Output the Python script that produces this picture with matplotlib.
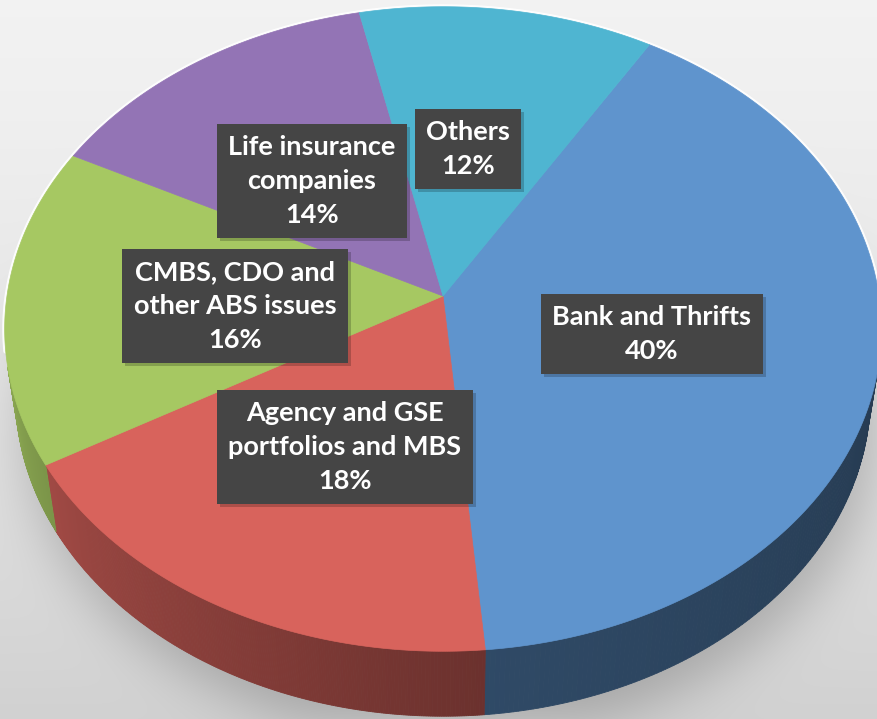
import numpy as np
import matplotlib.pyplot as plt
from matplotlib.colors import to_rgb
from matplotlib.patches import Polygon, Rectangle
from matplotlib.path import Path

# holders of the securities, clockwise from the top-right edge
labels = ["Bank and Thrifts", "Agency and GSE\nportfolios and MBS",
          "CMBS, CDO and\nother ABS issues", "Life insurance\ncompanies", "Others"]
shares = [40, 18, 16, 14, 12]
top_colors = ["#5F94CD", "#D8635C", "#A6C862", "#9374B5", "#4FB5D1"]
label_xy = [(652, 334), (345, 447), (235, 306), (312, 181), (468, 149)]

W, H = 878, 719
start_deg = 59.0           # where the first wedge starts (counter-clockwise from 3 o'clock)

# simple perspective camera looking down on a disc of radius 1
elev = np.radians(47.0)
S, C = np.sin(elev), np.cos(elev)
D, F = 6.66, 2904.0
CX, CY = 443.0, 296.0
thick = 0.232


def project(theta, z=0.0):
    X, Y = np.cos(theta), np.sin(theta)
    v = Y * S + z * C
    w = D + Y * C - z * S
    return CX + F * X / w, CY - F * v / w


def shade(theta):
    # side walls get darker from the left towards the right
    d = np.degrees(theta)
    d = np.where(d > 0, d - 360, d)
    return np.interp(d, [-167, -140, -86, -13], [0.82, 0.70, 0.50, 0.40])


def gauss_blur(img, sigma):
    k = np.exp(-0.5 * (np.arange(-3 * sigma, 3 * sigma + 1) / sigma) ** 2)
    k /= k.sum()
    out = np.apply_along_axis(lambda r: np.convolve(r, k, mode="same"), 1, img)
    return np.apply_along_axis(lambda c: np.convolve(c, k, mode="same"), 0, out)


fig = plt.figure(figsize=(W / 100, H / 100), dpi=100, facecolor="#d8d8d8")
ax = fig.add_axes([0, 0, 1, 1])
ax.axis("off")

# background: light-to-grey gradient with a soft drop shadow under the pie
yy, xx = np.mgrid[0:H, 0:W].astype(float)
bg = 0.95 - 0.13 * (yy / H) ** 1.3
t = np.linspace(0, 2 * np.pi, 400)
rim = np.column_stack(project(t, -thick))
rim[:, 1] += 22
rim[:, 0] += 8
pts = np.column_stack([xx.ravel() + 0.5, yy.ravel() + 0.5])
mask = Path(rim).contains_points(pts).reshape(H, W).astype(float)
bg = bg - 0.18 * gauss_blur(mask, 26)
bg_rgb = (np.dstack([bg, bg, bg]).clip(0, 1) * 255).astype(np.uint8)
ax.imshow(bg_rgb, extent=(0, W, H, 0), zorder=-5, interpolation="nearest")
ax.set_xlim(0, W)
ax.set_ylim(H, 0)
ax.set_aspect("auto")

# wedge angle ranges (clockwise)
bounds = np.radians(start_deg - 3.6 * np.concatenate([[0], np.cumsum(shares)]))
vis_lim = -1.0 / (D * C)   # side wall visible where sin(theta) < this

# side walls, drawn in thin strips so the shading can vary
for i, col in enumerate(top_colors):
    ts = np.linspace(bounds[i], bounds[i + 1], 240)
    rgb = np.array(to_rgb(col))
    for ta, tb in zip(ts[:-1], ts[1:]):
        if np.sin(ta) >= vis_lim and np.sin(tb) >= vis_lim:
            continue
        seg = np.array([ta, tb])
        x0, y0 = project(seg, 0.0)
        x1, y1 = project(seg[::-1], -thick)
        poly = np.column_stack([np.r_[x0, x1], np.r_[y0, y1]])
        c = rgb * shade(0.5 * (ta + tb))
        ax.add_patch(Polygon(poly, closed=True, fc=c, ec=c, lw=0.6, zorder=2))

# thin light rim on the back edge
a = np.arcsin(vis_lim + 0.05)
tb = np.linspace(a, np.pi - a, 600)
bx, by = project(tb)
ax.plot(bx, by, color="white", lw=3.5, alpha=0.9, zorder=3, solid_capstyle="round")

# top faces
for i, col in enumerate(top_colors):
    ts = np.linspace(bounds[i], bounds[i + 1], 200)
    px, py = project(ts)
    poly = np.column_stack([np.r_[CX, px], np.r_[CY, py]])
    ax.add_patch(Polygon(poly, closed=True, fc=col, ec=col, lw=0.5, zorder=4))

# data labels
texts = []
for lab, val, (lx, ly) in zip(labels, shares, label_xy):
    texts.append(ax.text(lx, ly, f"{lab}\n{val}%", ha="center", va="center", color="white",
                         fontsize=19.5, fontweight="bold", family="Lato", linespacing=1.5,
                         bbox=dict(boxstyle="square,pad=0.42", fc="#454545", ec="none"),
                         zorder=6))

# faint shadow behind each label box
fig.canvas.draw()
for txt in texts:
    ext = txt.get_bbox_patch().get_window_extent()
    ax.add_patch(Rectangle((ext.x0 + 3, H - ext.y1 + 3), ext.width, ext.height,
                           fc="black", ec="none", alpha=0.2, zorder=5))

fig.savefig("out.png", dpi=100, facecolor=fig.get_facecolor())
